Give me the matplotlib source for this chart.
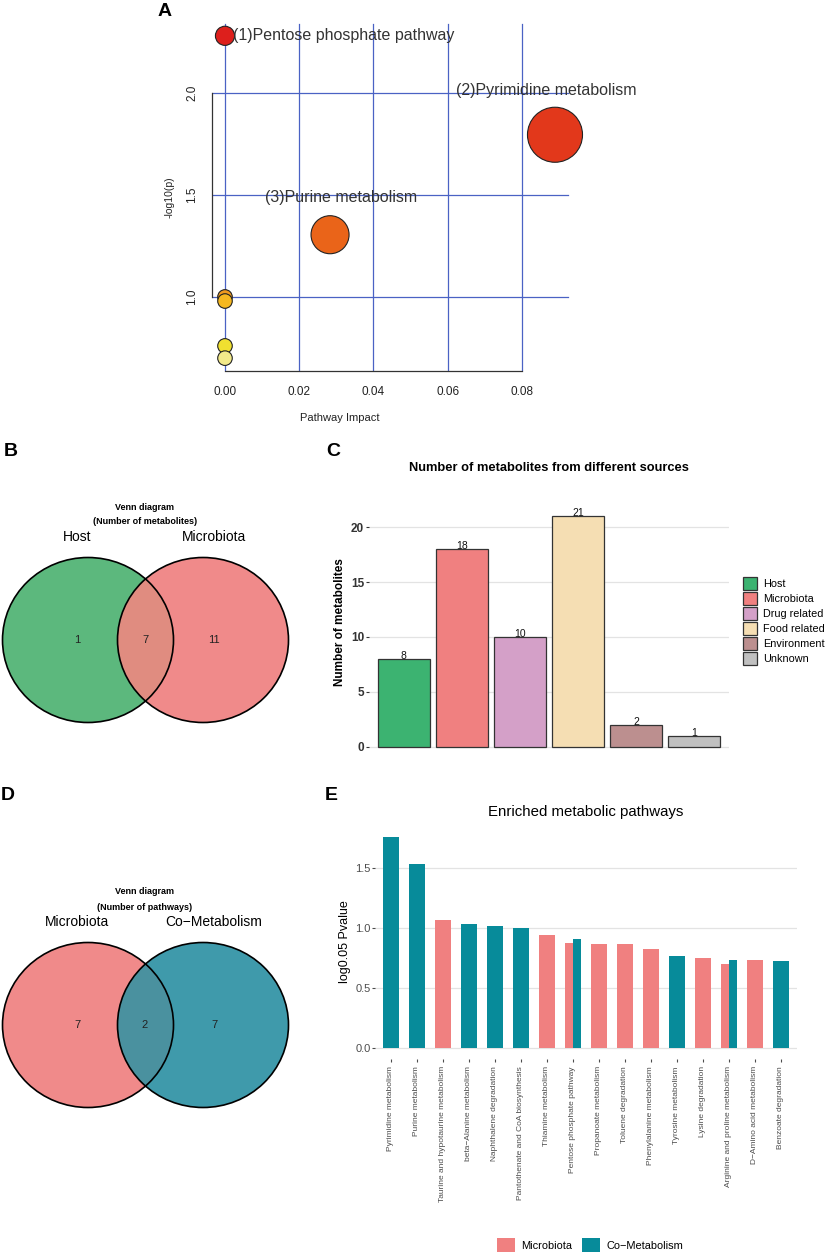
import numpy as np
import matplotlib.pyplot as plt
from matplotlib.patches import Ellipse, Patch

plt.rcParams['font.family'] = ['Liberation Sans', 'DejaVu Sans']

# A: pathway analysis bubbles
impact = [0.0, 0.0889, 0.0283, 0.0, 0.0, 0.0, 0.0]
logp = [2.28, 1.795, 1.305, 1.0, 0.98, 0.76, 0.70]
bubble_size = [190, 1570, 750, 110, 110, 110, 110]
bubble_color = ['#dd1f1c', '#e2381b', '#ea6419', '#f09a1e', '#f6b820', '#f0e030', '#f2e98a']
bubble_label = ['(1)Pentose phosphate pathway', '(2)Pyrimidine metabolism', '(3)Purine metabolism']

# B: metabolites venn
venn_b_sets = ['Host', 'Microbiota']
venn_b_counts = [1, 7, 11]

# C: sources
sources = ['Host', 'Microbiota', 'Drug related', 'Food related', 'Environment', 'Unknown']
source_counts = [8, 18, 10, 21, 2, 1]
source_colors = ['#3cb371', '#f08080', '#d4a0c8', '#f5deb3', '#bc8f8f', '#c0c0c0']

# D: pathways venn
venn_d_sets = ['Microbiota', 'Co\u2212Metabolism']
venn_d_counts = [7, 2, 7]

# E: enriched pathways
pathways = ['Pyrimidine metabolism', 'Purine metabolism', 'Taurine and hypotaurine metabolism',
            'beta\u2212Alanine metabolism', 'Naphthalene degradation', 'Pantothenate and CoA biosynthesis',
            'Thiamine metabolism', 'Pentose phosphate pathway', 'Propanoate metabolism',
            'Toluene degradation', 'Phenylalanine metabolism', 'Tyrosine metabolism',
            'Lysine degradation', 'Arginine and proline metabolism', 'D\u2212Amino acid metabolism',
            'Benzoate degradation']
nan = np.nan
micro_p = [nan, nan, 1.064, nan, nan, nan, 0.942, 0.875, 0.864, 0.864, 0.822, nan, 0.753, 0.697, 0.731, nan]
cometa_p = [1.758, 1.533, nan, 1.031, 1.017, 1.003, nan, 0.911, nan, nan, nan, 0.767, nan, 0.731, nan, 0.722]
micro_col = '#f08080'
cometa_col = '#078b9a'

W, H = 837, 1255
fig = plt.figure(figsize=(W / 100, H / 100), dpi=100)


def px_axes(l, t, r, b):
    return fig.add_axes([l / W, 1 - b / H, (r - l) / W, (b - t) / H])


# overlay in pixel units for labels and venns
ov = fig.add_axes([0, 0, 1, 1])
ov.set_xlim(0, W)
ov.set_ylim(H, 0)
ov.axis('off')

for lab, (x, y) in zip('ABCDE', [(165, 12), (11, 451), (333, 452), (8, 795), (331, 795)]):
    ov.text(x, y, lab, fontsize=14, fontweight='bold', ha='center', va='center')

# ---- A ----
axA = px_axes(212, 15, 640, 371)
axA.set_xlim(-0.0035, 0.1118)
axA.set_ylim(0.637, 2.382)
grid_blue = '#4a62c4'
for gx in [0, 0.02, 0.04, 0.06, 0.08]:
    axA.plot([gx, gx], [0.637, 2.338], color=grid_blue, lw=0.9, zorder=1)
for gy in [1.0, 1.5, 2.0]:
    axA.plot([-0.0035, 0.0924], [gy, gy], color=grid_blue, lw=0.9, zorder=1)
for s in ['top', 'right']:
    axA.spines[s].set_visible(False)
axA.spines['left'].set_bounds(1.0, 2.0)
axA.spines['bottom'].set_bounds(0, 0.08)
for s in ['left', 'bottom']:
    axA.spines[s].set_color('#333333')
    axA.spines[s].set_linewidth(0.9)
axA.set_xticks([0, 0.02, 0.04, 0.06, 0.08])
axA.set_xticklabels(['0.00', '0.02', '0.04', '0.06', '0.08'])
axA.set_yticks([1.0, 1.5, 2.0])
axA.set_yticklabels(['1.0', '1.5', '2.0'], rotation=90, va='center')
axA.tick_params(axis='x', length=0, pad=11, labelsize=8.5, labelcolor='#222222')
axA.tick_params(axis='y', length=0, pad=10, labelsize=8.5, labelcolor='#222222')
axA.scatter(impact, logp, s=bubble_size, c=bubble_color, edgecolors='#222222',
            linewidths=0.8, zorder=3, clip_on=False)
label_pos = [(0.0022, 2.28), (0.0622, 2.01), (0.0108, 1.485)]
for txt, (lx, ly) in zip(bubble_label, label_pos):
    axA.text(lx, ly, txt, fontsize=11.5, color='#333333', ha='left', va='center', zorder=4)
ov.text(170, 197, '-log10(p)', fontsize=7.5, rotation=90, ha='center', va='center', color='#222222')
ov.text(340, 418, 'Pathway Impact', fontsize=8, ha='center', va='center', color='#222222')


# ---- venn helper ----
def draw_venn(cy, names, counts, c_left, c_right, c_mid, subtitle):
    e1 = Ellipse((88, cy), 171, 165, facecolor=c_left, edgecolor='none')
    e2 = Ellipse((203, cy), 171, 165, facecolor=c_right, edgecolor='none')
    ov.add_patch(e1)
    ov.add_patch(e2)
    mid = Ellipse((203, cy), 171, 165, facecolor=c_mid, edgecolor='none')
    ov.add_patch(mid)
    mid.set_clip_path(e1)
    for cx in (88, 203):
        ov.add_patch(Ellipse((cx, cy), 171, 165, facecolor='none', edgecolor='black', lw=1.2))
    for x, n in zip([77, 145, 214], counts):
        ov.text(x, cy, str(n), fontsize=8, ha='center', va='center', color='#222222')
    ov.text(77, cy - 103, names[0], fontsize=10, ha='center', va='center')
    ov.text(214, cy - 103, names[1], fontsize=10, ha='center', va='center')
    ov.text(145, cy - 133, 'Venn diagram', fontsize=6.5, fontweight='bold', ha='center', va='center')
    ov.text(145, cy - 118, subtitle, fontsize=6.5, fontweight='bold', ha='center', va='center')


draw_venn(640, venn_b_sets, venn_b_counts, '#5cb87d', '#f08a8a', '#e08c80', '(Number of metabolites)')
draw_venn(1025, venn_d_sets, venn_d_counts, '#f08a8a', '#3f9aab', '#4a919f', '(Number of pathways)')

# ---- C ----
axC = px_axes(369, 504.5, 729, 758.5)
xs = np.arange(len(sources))
axC.bar(xs, source_counts, width=0.9, color=source_colors, edgecolor='#333333', linewidth=0.9, zorder=2)
for x, v in zip(xs, source_counts):
    axC.text(x, v - 0.15, str(v), ha='center', va='bottom', fontsize=7.5, color='#111111', zorder=3)
axC.set_xlim(-0.6, 5.6)
axC.set_ylim(-1.05, 22.05)
axC.set_yticks([0, 5, 10, 15, 20])
axC.set_xticks([])
axC.yaxis.grid(True, color='#e3e3e3', lw=0.9)
axC.set_axisbelow(True)
for s in axC.spines.values():
    s.set_visible(False)
axC.tick_params(axis='y', length=2.5, width=0.8, color='#333333', labelsize=8.5, labelcolor='#333333', pad=1)
for t in axC.get_yticklabels():
    t.set_fontweight('bold')
ov.text(549, 468, 'Number of metabolites from different sources', fontsize=9.3, fontweight='bold',
        ha='center', va='center')
ov.text(340, 622, 'Number of metabolites', fontsize=8.5, fontweight='bold', rotation=90,
        ha='center', va='center')
handles = [Patch(facecolor=c, edgecolor='#333333', lw=0.9) for c in source_colors]
fig.legend(handles, sources, loc='upper left', bbox_to_anchor=(743 / W, 1 - 577 / H), frameon=False,
           borderpad=0, borderaxespad=0, handlelength=1.3, handleheight=1.45, labelspacing=0.2,
           handletextpad=0.55, fontsize=7.8)

# ---- E ----
axE = px_axes(375.4, 826.5, 796.6, 1058.5)
for i, (m, c) in enumerate(zip(micro_p, cometa_p)):
    if not np.isnan(m) and not np.isnan(c):
        axE.bar(i - 0.15, m, 0.3, color=micro_col, zorder=2)
        axE.bar(i + 0.15, c, 0.3, color=cometa_col, zorder=2)
    elif not np.isnan(m):
        axE.bar(i, m, 0.6, color=micro_col, zorder=2)
    else:
        axE.bar(i, c, 0.6, color=cometa_col, zorder=2)
axE.set_xlim(-0.6, 15.6)
axE.set_ylim(-0.088, 1.846)
axE.set_yticks([0, 0.5, 1.0, 1.5])
axE.set_yticklabels(['0.0', '0.5', '1.0', '1.5'])
axE.set_xticks(np.arange(len(pathways)))
axE.set_xticklabels(pathways, rotation=90, va='top', ha='center')
axE.yaxis.grid(True, color='#e3e3e3', lw=0.9)
axE.set_axisbelow(True)
for s in axE.spines.values():
    s.set_visible(False)
axE.tick_params(axis='y', length=2.5, width=0.8, color='#4d4d4d', labelsize=8, labelcolor='#4d4d4d', pad=1)
axE.tick_params(axis='x', length=2.5, width=0.8, color='#4d4d4d', labelsize=6, labelcolor='#4d4d4d', pad=3)
ov.text(586, 812, 'Enriched metabolic pathways', fontsize=10.8, ha='center', va='center')
ov.text(345, 942, 'log0.05 Pvalue', fontsize=9, rotation=90, ha='center', va='center')
fig.legend([Patch(facecolor=micro_col), Patch(facecolor=cometa_col)], ['Microbiota', 'Co\u2212Metabolism'],
           loc='center', bbox_to_anchor=(590 / W, 1 - 1245 / H), ncol=2, frameon=False,
           handlelength=1.65, handleheight=1.55, handletextpad=0.55, columnspacing=0.9, fontsize=7.9)

fig.savefig('out.png', dpi=100)
